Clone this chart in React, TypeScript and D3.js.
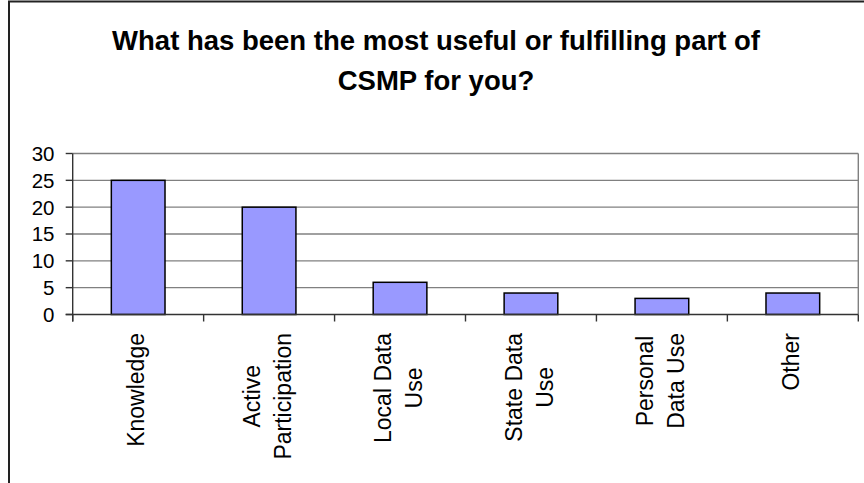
import React, { useMemo } from "react";
import * as d3 from "d3";

const categories: string[][] = [
  ["Knowledge"],
  ["Active", "Participation"],
  ["Local Data", "Use"],
  ["State Data", "Use"],
  ["Personal", "Data Use"],
  ["Other"],
];
const counts: number[] = [25, 20, 6, 4, 3, 4];
const yTicks: number[] = [0, 5, 10, 15, 20, 25, 30];
const titleLines: string[] = [
  "What has been the most useful or fulfilling part of",
  "CSMP for you?",
];

const W = 864;
const H = 483;
const FONT = "'Liberation Sans', Arial, Helvetica, sans-serif";
const plot = { left: 72.7, right: 858.3, top: 153.5, bottom: 314.5 };
const catFontSize = 23;
const lineGap = 31;

export default function App() {
  const keys = categories.map((c) => c.join(" "));
  const slot = d3.scaleBand<string>().domain(keys).range([plot.left, plot.right]).padding(0);
  const x = d3
    .scaleBand<string>()
    .domain(keys)
    .range([plot.left, plot.right])
    .paddingInner(0.59)
    .paddingOuter(0.295);
  const y = d3.scaleLinear().domain([0, 30]).range([plot.bottom, plot.top]);

  const measure = useMemo(() => {
    const ctx = document.createElement("canvas").getContext("2d");
    return (s: string) => {
      if (!ctx) return s.length * catFontSize * 0.5;
      ctx.font = `${catFontSize}px ${FONT}`;
      return ctx.measureText(s).width;
    };
  }, []);

  const labelTop = 333;
  const boundaries = keys.map((k) => slot(k) as number).concat([plot.right]);

  return (
    <svg
      width={W}
      height={H}
      style={{ position: "absolute", left: 0, top: 0, background: "#fff" }}
      fontFamily={FONT}
    >
      {/* chart frame */}
      <path d={`M9,${H + 5} V1.5 H${W + 5}`} fill="none" stroke="#222" strokeWidth={2} />

      {/* title */}
      <text textAnchor="middle" fontWeight="bold" fontSize={27.5} fill="#000">
        {titleLines.map((t, i) => (
          <tspan key={i} x={436} y={49.5 + i * 40}>
            {t}
          </tspan>
        ))}
      </text>

      {/* gridlines */}
      {yTicks
        .filter((t) => t > 0)
        .map((t) => (
          <line
            key={t}
            x1={plot.left}
            x2={plot.right}
            y1={y(t)}
            y2={y(t)}
            stroke="#808080"
            strokeWidth={1.4}
          />
        ))}
      <line x1={plot.right} x2={plot.right} y1={plot.top} y2={plot.bottom} stroke="#808080" strokeWidth={1.4} />

      {/* bars */}
      {counts.map((v, i) => (
        <rect
          key={keys[i]}
          x={x(keys[i])}
          y={y(v)}
          width={x.bandwidth()}
          height={y(0) - y(v)}
          fill="#9999FF"
          stroke="#000"
          strokeWidth={1.5}
        />
      ))}

      {/* y axis */}
      <line x1={plot.left} x2={plot.left} y1={plot.top} y2={plot.bottom + 7} stroke="#333" strokeWidth={1.4} />
      {yTicks.map((t) => (
        <g key={t}>
          <line x1={plot.left - 7} x2={plot.left} y1={y(t)} y2={y(t)} stroke="#333" strokeWidth={1.4} />
          <text
            x={54.5}
            y={y(t)}
            dy="0.36em"
            textAnchor="end"
            fontSize={20.5}
            fill="#000"
          >
            {t}
          </text>
        </g>
      ))}

      {/* x axis */}
      <line x1={plot.left - 7} x2={plot.right} y1={plot.bottom} y2={plot.bottom} stroke="#333" strokeWidth={1.4} />
      {boundaries.map((bx, i) => (
        <line key={i} x1={bx} x2={bx} y1={plot.bottom} y2={plot.bottom + 7} stroke="#333" strokeWidth={1.4} />
      ))}

      {/* category labels, rotated */}
      {categories.map((lines, i) => {
        const cx = (slot(keys[i]) as number) + slot.bandwidth() / 2;
        const maxLen = Math.max(...lines.map(measure));
        const cy = labelTop + maxLen / 2;
        return lines.map((ln, j) => {
          const bx = cx + (j - (lines.length - 1) / 2) * lineGap + 6.3;
          return (
            <text
              key={`${i}-${j}`}
              transform={`translate(${bx},${cy}) rotate(-90)`}
              textAnchor="middle"
              fontSize={catFontSize}
              fill="#000"
            >
              {ln}
            </text>
          );
        });
      })}
    </svg>
  );
}
